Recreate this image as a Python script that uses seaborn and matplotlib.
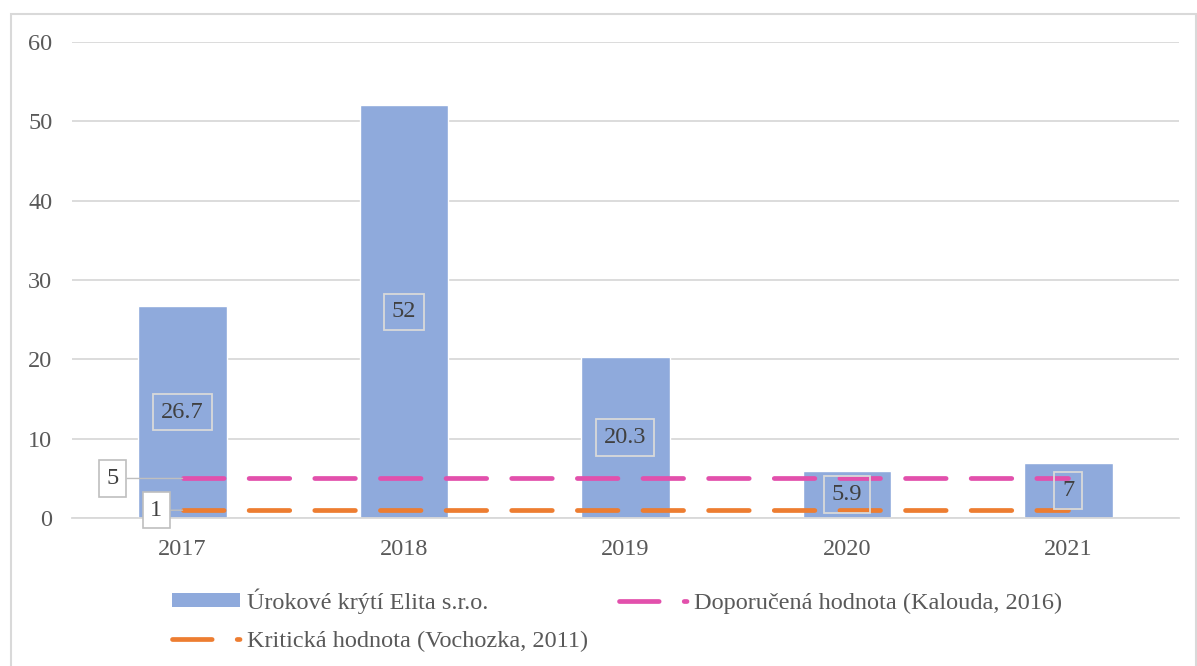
import numpy as np
import pandas as pd
import matplotlib
matplotlib.use("Agg")
import matplotlib.pyplot as plt
import seaborn as sns
from matplotlib.patches import Rectangle, Patch
from matplotlib.lines import Line2D

# Data
years = ["2017", "2018", "2019", "2020", "2021"]
urokove_kryti = [26.7, 52, 20.3, 5.9, 7]
doporucena = [5, 5, 5, 5, 5]
kriticka = [1, 1, 1, 1, 1]

bar_label = "Úrokové krýtí Elita s.r.o."
dop_label = "Doporučená hodnota (Kalouda, 2016)"
krit_label = "Kritická hodnota (Vochozka, 2011)"

BAR_COLOR = "#8FAADC"
PINK = "#E250AC"
ORANGE = "#ED7D31"
GRID = "#D9D9D9"
TEXT = "#595959"
FS = 17.5

sns.set_theme(style="white")
plt.rcParams["font.family"] = ["Liberation Serif", "DejaVu Serif"]

fig = plt.figure(figsize=(11.97, 6.66), dpi=100)
ax = fig.add_axes([0.060, 0.222, 0.925, 0.715])

df = pd.DataFrame({"rok": years, "hodnota": urokove_kryti})
sns.barplot(data=df, x="rok", y="hodnota", color=BAR_COLOR, width=0.4,
            saturation=1, ax=ax, zorder=2)

pos = np.arange(len(years))
lw = 3.4
dash = (8.6, 5.3)
ax.plot(pos, doporucena, color=PINK, lw=lw, dashes=dash,
        dash_capstyle="round", zorder=3)
ax.plot(pos, kriticka, color=ORANGE, lw=lw, dashes=dash,
        dash_capstyle="round", zorder=3)

# popisky hodnot na sloupcich
ax.bar_label(ax.containers[0], labels=[f"{v:g}" for v in urokove_kryti],
             label_type="center", fontsize=FS, color="#404040", zorder=5,
             bbox=dict(boxstyle="square,pad=0.32", fc="none", ec=GRID, lw=1.3))

# popisky referencnich car
box_white = dict(boxstyle="square,pad=0.32", fc="white", ec="#BFBFBF", lw=1.2)
leader = dict(arrowstyle="-", color="#BFBFBF", lw=1.0, shrinkA=0, shrinkB=0)
ax.annotate(str(doporucena[0]), xy=(pos[0], doporucena[0]), xytext=(-0.316, doporucena[0]),
            ha="center", va="center", fontsize=FS, color="#404040", bbox=box_white,
            arrowprops=leader, zorder=6)
ax.annotate(str(kriticka[0]), xy=(pos[0], kriticka[0]), xytext=(-0.118, kriticka[0]),
            ha="center", va="center", fontsize=FS, color="#404040", bbox=box_white,
            arrowprops=leader, zorder=6)

ax.set_ylim(0, 60)
ax.set_xlim(-0.5, 4.5)
ax.set_yticks(range(0, 61, 10))
ax.yaxis.grid(True, color=GRID, lw=1.3, zorder=0)
ax.set_axisbelow(True)
for s in ["top", "right", "left"]:
    ax.spines[s].set_visible(False)
ax.spines["bottom"].set_color(GRID)
ax.spines["bottom"].set_linewidth(1.3)
ax.tick_params(axis="both", length=0, labelsize=FS, labelcolor=TEXT)
ax.tick_params(axis="y", pad=14)
ax.tick_params(axis="x", pad=15)
ax.set_xlabel("")
ax.set_ylabel("")

# legenda (poradi kvuli plneni po sloupcich)
legend_dash = (0, (8.4, 5.3, 0.6, 100))
handles = [
    Patch(facecolor=BAR_COLOR, edgecolor="none", label=bar_label),
    Line2D([], [], color=ORANGE, lw=lw, linestyle=legend_dash,
           dash_capstyle="round", label=krit_label),
    Line2D([], [], color=PINK, lw=lw, linestyle=legend_dash,
           dash_capstyle="round", label=dop_label),
]
leg = fig.legend(handles=handles, ncol=2, loc="upper left",
                 bbox_to_anchor=(172 / 1197, 0.117), frameon=False, fontsize=FS,
                 handlelength=2.8, handleheight=0.5, handletextpad=0.3,
                 columnspacing=1.25, labelspacing=0.72, borderpad=0, borderaxespad=0)
for t in leg.get_texts():
    t.set_color(TEXT)

# ramecek grafu
fig.patches.append(Rectangle((10.5 / 1197, -0.01), (1196 - 10.5) / 1197, 1 - 13.5 / 666 + 0.01,
                             transform=fig.transFigure, fill=False, ec=GRID, lw=1.5))

fig.savefig("out.png", dpi=100)
